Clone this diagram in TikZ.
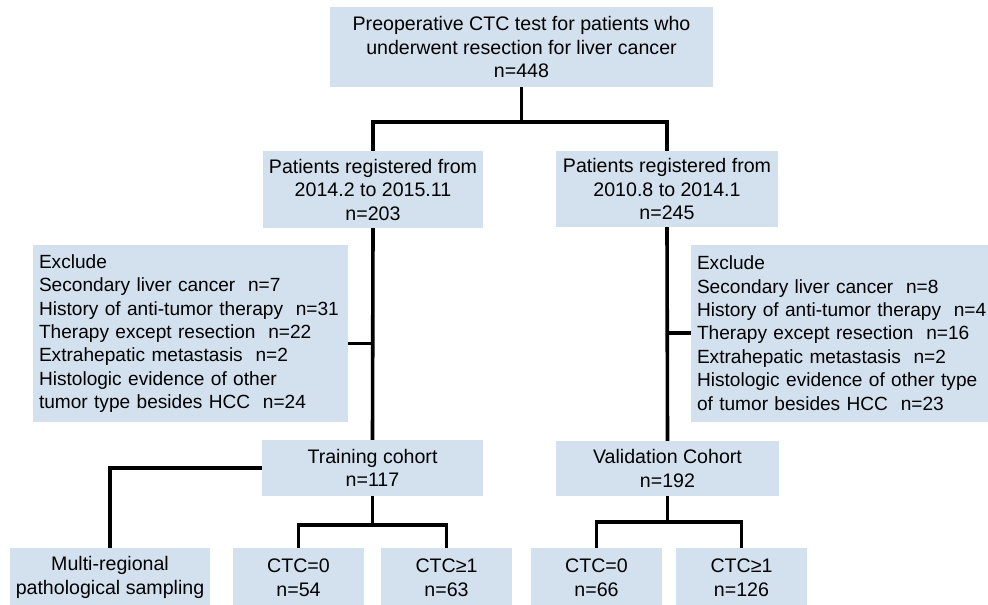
\documentclass[tikz,border=0pt]{standalone}
\usepackage{fontspec}
\setmainfont{Liberation Sans}
\definecolor{boxblue}{RGB}{211,225,238}
\tikzset{box/.style={fill=boxblue, align=center, inner sep=0pt, font=\fontsize{19.6}{23.5}\selectfont},
	exbox/.style={box, align=left, text width=303pt, inner xsep=6pt, minimum height=177pt, font=\fontsize{19.1}{23.4}\selectfont},
	link/.style={line width=3.6pt}}

\begin{document}
\begin{tikzpicture}[x=1pt,y=-1pt]
		\useasboundingbox (0,0) rectangle (988,605);
		\clip (0,0) rectangle (988,605);
		
		\node (pre) at (521.5,47) [box, minimum width=383pt, minimum height=80pt] {Preoperative CTC test for patients who\\underwent resection for liver cancer\\n=448};
		\node (regA) at (373,189.5) [box, minimum width=220pt, minimum height=77pt] {Patients registered from\\2014.2 to 2015.11\\n=203};
		\node (regB) at (667,189) [box, minimum width=222pt, minimum height=76pt] {Patients registered from\\2010.8 to 2014.1\\n=245};
		\node (exA) at (190.5,333.5) [exbox] {Exclude\\Secondary liver cancer~ n=7\\History of anti-tumor therapy~ n=31\\Therapy except resection~ n=22\\Extrahepatic metastasis~ n=2\\Histologic evidence of other\\tumor type besides HCC~ n=24};
		\node (exB) at (848.5,333) [exbox] {Exclude\\Secondary liver cancer~ n=8\\History of anti-tumor therapy~ n=4\\Therapy except resection~ n=16\\Extrahepatic metastasis~ n=2\\Histologic evidence of other type\\of tumor besides HCC~ n=23};
		\node (train) at (372.5,468) [box, minimum width=221pt, minimum height=56pt] {Training cohort\\n=117};
		\node (valid) at (667.5,468.5) [box, minimum width=223pt, minimum height=55pt] {Validation Cohort\\n=192};
		\node (multi) at (110,577.5) [box, minimum width=200pt, minimum height=59pt] {Multi-regional\\pathological sampling};
		\node (tzero) at (298.5,577.5) [box, minimum width=131pt, minimum height=59pt] {CTC=0\\n=54};
		\node (tpos) at (446.5,577.5) [box, minimum width=131pt, minimum height=59pt] {CTC≥1\\n=63};
		\node (vzero) at (596.5,577.5) [box, minimum width=131pt, minimum height=59pt] {CTC=0\\n=66};
		\node (vpos) at (741.5,577.5) [box, minimum width=131pt, minimum height=59pt] {CTC≥1\\n=126};
		
		\draw[link] (pre.south) -- ++(0,35) coordinate (split);
		\draw[link] (regA.north) |- (split) -| (regB.north);
		\draw[link] (regA.south) -- (train.north);
		\draw[link] (regB.south) -- (valid.north);
		\draw[link] ([yshift=-10pt]exA.east) -- ([yshift=-10pt]exA.east -| regA.south);
		\draw[link] (exB.west) -- (exB.west -| regB.south);
		\draw[link] (train.west) -| (multi.north);
		\draw[link] (train.south) -- ++(0,29) coordinate (tsplit);
		\draw[link] (tzero.north) |- (tsplit) -| (tpos.north);
		\draw[link] (valid.south) -- ++(0,26) coordinate (vsplit);
		\draw[link] (vzero.north) |- (vsplit) -| (vpos.north);
	\end{tikzpicture}
\end{document}
